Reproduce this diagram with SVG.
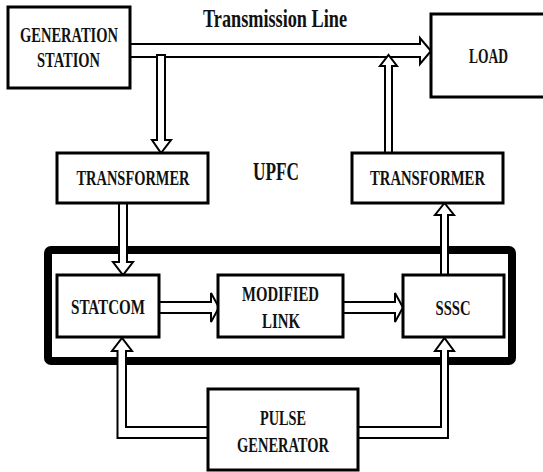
<svg xmlns="http://www.w3.org/2000/svg" width="543" height="472" viewBox="0 0 543 472">
<style>
.box{fill:#fff;stroke:#000;stroke-width:3}
.big{fill:none;stroke:#000;stroke-width:8}
.arr{fill:#fff;stroke:#000;stroke-width:2;stroke-linejoin:miter}
text{font-family:"Liberation Serif","Times New Roman",serif;font-weight:bold;fill:#111;font-size:22px}
.lg{font-size:26px}
</style>
<rect width="543" height="472" fill="#fff"/>
<g id="upfc">
<rect class="big" x="48" y="250" width="464" height="111" rx="3"/>
<text class="lg" x="253" y="180" textLength="46" lengthAdjust="spacingAndGlyphs">UPFC</text>
</g>
<g id="connectors">
<path class="arr" d="M130,44 L420,44 L420,38 L431,51 L420,64 L420,57 L130,57"/>
<path class="arr" d="M157,55 L165,55 L165,140 L171,140 L161,153 L152,140 L157,140 Z"/>
<path class="arr" d="M119,203 L127,203 L127,262 L133,262 L123,275 L113,262 L119,262 Z"/>
<path class="arr" d="M159,302 L211,302 L211,293 L219,307.5 L211,322 L211,313 L159,313 Z"/>
<path class="arr" d="M343,302 L395,302 L395,293 L403,307.5 L395,322 L395,313 L343,313 Z"/>
<path class="arr" d="M441,275 L441,215 L435,215 L444.5,203 L454,215 L448,215 L448,275 Z"/>
<path class="arr" d="M385,153 L385,66 L380,66 L388.5,55 L397,66 L392,66 L392,153 Z"/>
<path class="arr" d="M208,438 L117.5,438 L117.5,351 L112,351 L122,338 L132,351 L126,351 L126,427 L208,427"/>
<path class="arr" d="M358,438 L448,438 L448,351 L454,351 L444.5,338 L435,351 L441,351 L441,427 L358,427"/>
</g>
<g id="text-transmission">
<text class="lg" x="203" y="27" textLength="144" lengthAdjust="spacingAndGlyphs">Transmission Line</text>
</g>
<g id="generation-station">
<rect class="box" x="8" y="7" width="122" height="81"/>
<text x="69" y="42" text-anchor="middle" textLength="98" lengthAdjust="spacingAndGlyphs">GENERATION</text>
<text x="68.5" y="67" text-anchor="middle" textLength="63" lengthAdjust="spacingAndGlyphs">STATION</text>
</g>
<g id="load">
<rect class="box" x="431" y="14" width="120" height="83"/>
<text x="469" y="63" textLength="39" lengthAdjust="spacingAndGlyphs">LOAD</text>
</g>
<g id="transformer-left">
<rect class="box" x="57" y="153" width="151" height="50"/>
<text x="133" y="185" text-anchor="middle" textLength="113" lengthAdjust="spacingAndGlyphs">TRANSFORMER</text>
</g>
<g id="transformer-right">
<rect class="box" x="352" y="153" width="151" height="50"/>
<text x="427.5" y="185" text-anchor="middle" textLength="115" lengthAdjust="spacingAndGlyphs">TRANSFORMER</text>
</g>
<g id="statcom">
<rect class="box" x="57" y="275" width="102" height="62"/>
<text x="108" y="314" text-anchor="middle" textLength="74" lengthAdjust="spacingAndGlyphs">STATCOM</text>
</g>
<g id="modified-link">
<rect class="box" x="218" y="275" width="125" height="62"/>
<text x="280.5" y="301" text-anchor="middle" textLength="77" lengthAdjust="spacingAndGlyphs">MODIFIED</text>
<text x="281" y="328" text-anchor="middle" textLength="38" lengthAdjust="spacingAndGlyphs">LINK</text>
</g>
<g id="sssc">
<rect class="box" x="403" y="275" width="101" height="62"/>
<text x="453" y="315" text-anchor="middle" textLength="35" lengthAdjust="spacingAndGlyphs">SSSC</text>
</g>
<g id="pulse-generator">
<rect class="box" x="208" y="389" width="150" height="81"/>
<text x="283" y="425" text-anchor="middle" textLength="46" lengthAdjust="spacingAndGlyphs">PULSE</text>
<text x="283" y="452" text-anchor="middle" textLength="92" lengthAdjust="spacingAndGlyphs">GENERATOR</text>
</g>
</svg>
